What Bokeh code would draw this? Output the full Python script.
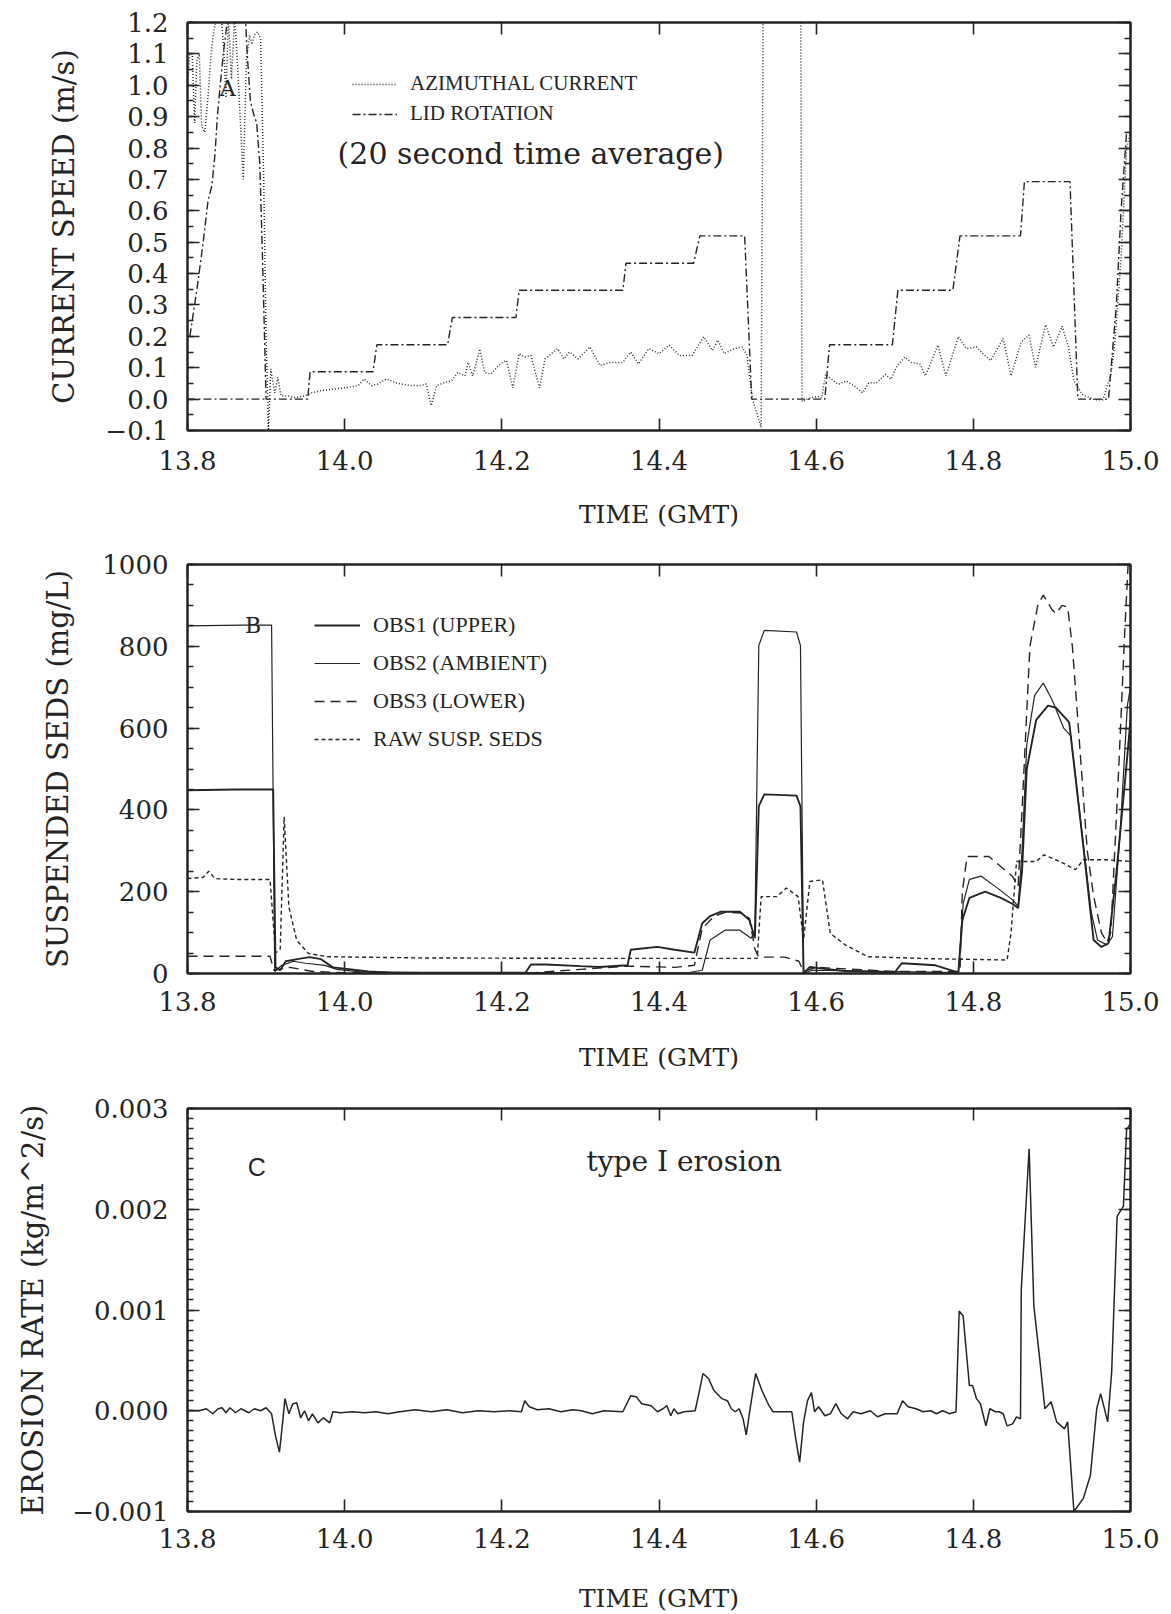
import numpy as np
from bokeh.plotting import figure
from bokeh.layouts import column
from bokeh.models import (Range1d, FixedTicker, LinearAxis, CustomJSTickFormatter,
                          Legend, LegendItem, Label)
from bokeh.embed import file_html
from bokeh.resources import INLINE

# ---------------- data: panel A (current speed, m/s) ----------------
az_t = [13.800, 13.803, 13.806, 13.809, 13.812, 13.815, 13.818, 13.822, 13.826, 13.830,
        13.834, 13.838, 13.842, 13.846, 13.849, 13.852, 13.856, 13.860, 13.864, 13.871,
        13.875, 13.879, 13.882, 13.885, 13.889, 13.893, 13.897, 13.900, 13.903, 13.906,
        13.911, 13.915, 13.919, 13.928, 13.936, 13.949, 13.958, 13.970, 13.987, 14.004,
        14.017, 14.025, 14.034, 14.042, 14.053, 14.064, 14.072, 14.085, 14.097, 14.104,
        14.110, 14.117, 14.127, 14.136, 14.144, 14.153, 14.157, 14.163, 14.172, 14.178,
        14.186, 14.192, 14.198, 14.206, 14.214, 14.222, 14.229, 14.237, 14.248, 14.255,
        14.271, 14.279, 14.286, 14.297, 14.312, 14.325, 14.338, 14.354, 14.364, 14.374,
        14.387, 14.400, 14.413, 14.426, 14.442, 14.457, 14.468, 14.475, 14.483, 14.496,
        14.506, 14.512, 14.519, 14.530, 14.533, 14.580, 14.582, 14.592, 14.602, 14.607,
        14.612, 14.620, 14.628, 14.638, 14.649, 14.659, 14.667, 14.677, 14.688, 14.695,
        14.703, 14.713, 14.721, 14.732, 14.739, 14.755, 14.765, 14.781, 14.791, 14.804,
        14.812, 14.822, 14.838, 14.848, 14.861, 14.871, 14.879, 14.892, 14.902, 14.913,
        14.921, 14.928, 14.939, 14.954, 14.965, 14.975, 14.980, 14.988, 14.995, 15.000]
az_v = [1.00, 1.10, 1.10, 0.88, 1.08, 1.10, 0.87, 0.85, 0.96, 1.10,
        1.18, 1.23, 1.25, 1.12, 0.96, 1.22, 1.02, 1.22, 1.05, 0.70,
        1.08, 1.16, 1.13, 1.16, 1.17, 1.15, 0.70, 0.20, -0.10, 0.096,
        0.020, 0.069, 0.010, 0.010, 0.005, 0.010, 0.020, 0.027, 0.032, 0.037,
        0.043, 0.064, 0.043, 0.048, 0.064, 0.053, 0.048, 0.043, 0.043, 0.048,
        -0.021, 0.043, 0.053, 0.058, 0.085, 0.074, 0.117, 0.074, 0.160, 0.085,
        0.080, 0.096, 0.112, 0.123, 0.036, 0.145, 0.134, 0.139, 0.036, 0.128,
        0.161, 0.128, 0.150, 0.128, 0.166, 0.107, 0.117, 0.117, 0.150, 0.112,
        0.161, 0.145, 0.172, 0.139, 0.139, 0.199, 0.155, 0.188, 0.145, 0.161,
        0.166, 0.139, 0.000, -0.090, 1.500, 1.500, -0.008, 0.003, 0.009, 0.003,
        0.079, 0.063, 0.047, 0.058, 0.041, 0.020, 0.052, 0.052, 0.079, 0.063,
        0.107, 0.134, 0.117, 0.112, 0.074, 0.172, 0.074, 0.199, 0.161, 0.166,
        0.145, 0.123, 0.193, 0.074, 0.183, 0.204, 0.101, 0.237, 0.166, 0.232,
        0.166, 0.058, 0.014, -0.002, -0.002, 0.079, 0.177, 0.450, 0.800, 0.850]

lid_t = [13.800, 13.900, np.nan,
         13.803, 13.812, 13.820, 13.826, 13.831, 13.835, 13.838, 13.842, 13.846, 13.850,
         13.854, 13.872, 13.876, 13.880, 13.884, 13.888, 13.892, 13.896, 13.900,
         13.953, 13.956, 14.036, 14.041, 14.131, 14.137, 14.218, 14.222, 14.354,
         14.358, 14.444, 14.452, 14.509, 14.518, 14.611, 14.617, 14.697, 14.704, 14.774,
         14.783, 14.860, 14.865, 14.923, 14.933, 14.972, 14.982, 14.988, 14.995, 15.000]
lid_v = [0.0, 0.0, np.nan,
         0.20, 0.35, 0.50, 0.63, 0.68, 0.78, 0.90, 1.01, 1.11, 1.19,
         1.30, 1.30, 1.10, 0.95, 0.91, 0.88, 0.75, 0.40, 0.00,
         0.00, 0.087, 0.087, 0.173, 0.173, 0.260, 0.260, 0.347, 0.347,
         0.433, 0.433, 0.520, 0.520, 0.000, 0.000, 0.173, 0.173, 0.347, 0.347,
         0.520, 0.520, 0.693, 0.693, 0.000, 0.000, 0.300, 0.600, 0.850, 0.850]

# ---------------- data: panel B (suspended sediments, mg/L) ----------------
obs1_t = [13.800, 13.860, 13.909, 13.912, 13.918, 13.925, 13.940, 13.955, 13.970, 13.985,
          14.000, 14.030, 14.060, 14.230, 14.237, 14.256, 14.300, 14.324, 14.360, 14.364,
          14.398, 14.420, 14.445, 14.455, 14.465, 14.479, 14.503, 14.515, 14.522, 14.527,
          14.534, 14.575, 14.580, 14.584, 14.592, 14.608, 14.637, 14.700, 14.709, 14.752,
          14.778, 14.781, 14.786, 14.795, 14.815, 14.835, 14.850, 14.857, 14.862, 14.868,
          14.880, 14.895, 14.905, 14.922, 14.930, 14.939, 14.953, 14.963, 14.972, 14.982,
          14.994, 15.000]
obs1_v = [448, 450, 450, 15, 8, 30, 35, 40, 35, 15,
          12, 5, 2, 2, 22, 22, 18, 16, 20, 58,
          65, 58, 51, 123, 140, 151, 151, 131, 86, 409,
          438, 435, 409, 0, 16, 12, 6, 3, 25, 20,
          4, 4, 130, 185, 200, 185, 170, 160, 250, 500,
          620, 655, 650, 614, 480, 327, 82, 65, 74, 245,
          491, 620]

obs2_t = [13.800, 13.870, 13.907, 13.911, 13.920, 13.935, 13.950, 13.975, 13.990, 14.020,
          14.100, 14.440, 14.455, 14.465, 14.484, 14.503, 14.517, 14.522, 14.527, 14.534,
          14.575, 14.580, 14.584, 14.595, 14.720, 14.781, 14.787, 14.795, 14.810, 14.830,
          14.850, 14.857, 14.862, 14.868, 14.878, 14.889, 14.900, 14.915, 14.924, 14.935,
          14.950, 14.958, 14.970, 14.977, 14.987, 14.996, 15.000]
obs2_v = [850, 852, 852, 5, 20, 30, 25, 20, 10, 4,
          2, 3, 8, 82, 106, 106, 86, 100, 802, 839,
          835, 802, 0, 8, 4, 2, 170, 230, 238, 210,
          180, 164, 300, 560, 680, 710, 670, 600, 581, 400,
          150, 82, 70, 90, 350, 655, 700]

obs3_t = [13.800, 13.905, 13.910, 13.930, 13.960, 14.000, 14.240, 14.300, 14.360, 14.420,
          14.445, 14.455, 14.470, 14.485, 14.505, 14.515, 14.522, 14.527, 14.560, 14.578,
          14.584, 14.600, 14.650, 14.700, 14.783, 14.786, 14.792, 14.820, 14.850, 14.857,
          14.862, 14.872, 14.882, 14.889, 14.900, 14.905, 14.913, 14.920, 14.926, 14.933,
          14.945, 14.953, 14.963, 14.970, 14.975, 14.985, 14.993, 14.997, 15.000]
obs3_v = [42, 42, 8, 15, 5, 2, 2, 10, 18, 15,
          20, 110, 140, 150, 148, 135, 60, 40, 40, 30,
          5, 15, 10, 5, 5, 200, 286, 286, 237, 213,
          400, 800, 900, 925, 890, 880, 900, 896, 800, 619,
          300, 190, 100, 76, 101, 500, 850, 1000, 1000]

raw_t = [13.800, 13.820, 13.827, 13.835, 13.860, 13.905, 13.912, 13.918, 13.923, 13.929,
         13.939, 13.954, 13.978, 14.100, 14.300, 14.450, 14.525, 14.530, 14.550, 14.562,
         14.577, 14.584, 14.592, 14.608, 14.618, 14.637, 14.666, 14.750, 14.843, 14.848,
         14.855, 14.880, 14.890, 14.910, 14.930, 14.940, 14.970, 15.000]
raw_v = [232, 235, 250, 232, 230, 230, 50, 60, 383, 163,
         81, 49, 41, 38, 37, 37, 37, 188, 188, 209,
         188, 82, 225, 229, 98, 70, 41, 36, 33, 100,
         274, 274, 290, 274, 254, 278, 278, 274]

# ---------------- data: panel C (erosion rate, kg/m^2/s) ----------------
er_t = [13.800, 13.815, 13.824, 13.832, 13.839, 13.844, 13.849, 13.854, 13.861, 13.868,
        13.878, 13.885, 13.893, 13.900, 13.907, 13.912, 13.917, 13.921, 13.924, 13.929,
        13.934, 13.939, 13.944, 13.949, 13.954, 13.959, 13.966, 13.973, 13.981, 13.985,
        13.995, 14.010, 14.025, 14.040, 14.055, 14.070, 14.090, 14.110, 14.130, 14.150,
        14.170, 14.190, 14.210, 14.225, 14.229, 14.235, 14.245, 14.260, 14.275, 14.290,
        14.301, 14.315, 14.330, 14.354, 14.364, 14.371, 14.378, 14.390, 14.398, 14.405,
        14.410, 14.415, 14.419, 14.424, 14.432, 14.446, 14.451, 14.456, 14.463, 14.470,
        14.480, 14.487, 14.492, 14.497, 14.502, 14.507, 14.511, 14.516, 14.523, 14.531,
        14.540, 14.545, 14.569, 14.574, 14.579, 14.584, 14.589, 14.594, 14.598, 14.603,
        14.611, 14.618, 14.625, 14.632, 14.640, 14.647, 14.657, 14.669, 14.678, 14.688,
        14.703, 14.710, 14.717, 14.727, 14.736, 14.746, 14.753, 14.761, 14.770, 14.778,
        14.782, 14.787, 14.795, 14.799, 14.804, 14.809, 14.816, 14.821, 14.828, 14.833,
        14.838, 14.843, 14.850, 14.855, 14.860, 14.861, 14.871, 14.877, 14.884, 14.891,
        14.899, 14.906, 14.916, 14.920, 14.928, 14.940, 14.949, 14.957, 14.962, 14.971,
        14.976, 14.983, 14.991, 14.995, 15.000]
er_v = [0.0, 0.0, 0.00002, -0.00003, 0.00002, 0.00003, -0.00002, 0.00003, -0.00002, 0.00002,
        -0.00002, 0.00002, 0.0, 0.00003, -0.00003, -0.00025, -0.00041, -0.00012, 0.00012, -0.00003,
        0.00007, 0.00008, -0.00007, 0.0, -0.00010, -0.00003, -0.00012, -0.00007, -0.00012, -0.00001,
        -0.00002, -0.00001, -0.00002, -0.00001, -0.00003, -0.00001, 0.00001, -0.00001, 0.00001, -0.00002,
        0.0, -0.00001, 0.0, -0.00001, 0.00010, 0.00004, 0.00001, 0.00002, -0.00001, 0.00001,
        0.0, -0.00003, 0.0, -0.00001, 0.00015, 0.00014, 0.00007, 0.00005, -0.00001, 0.00002,
        0.00005, -0.00005, 0.00002, -0.00003, -0.00001, 0.0, 0.00018, 0.00037, 0.00032, 0.00020,
        0.00012, 0.00010, 0.00002, -0.00001, 0.00002, -0.00008, -0.00024, 0.00002, 0.00037, 0.00020,
        0.00005, -0.00001, -0.00001, -0.00028, -0.00051, -0.00011, 0.00010, 0.00018, -0.00001, 0.00004,
        -0.00005, -0.00003, 0.00007, -0.00003, -0.00008, -0.00001, -0.00003, 0.0, -0.00006, -0.00003,
        -0.00003, 0.00010, 0.00004, 0.00002, -0.00001, 0.0, -0.00003, 0.0, -0.00003, -0.00001,
        0.00099, 0.00094, 0.00025, 0.00025, 0.00012, 0.00007, -0.00015, 0.00002, -0.00001, -0.00001,
        -0.00003, -0.00015, -0.00013, -0.00006, -0.00008, 0.00120, 0.00260, 0.00104, 0.00055, 0.00002,
        0.00009, -0.00011, -0.00018, -0.00011, -0.00100, -0.00087, -0.00064, 0.00002, 0.00017, -0.00011,
        0.00038, 0.00193, 0.00203, 0.00279, 0.00285]

# ---------------- tick definitions ----------------
x_ticks = [13.8, 14.0, 14.2, 14.4, 14.6, 14.8, 15.0]
a_major = [-0.1, 0.0, 0.1, 0.2, 0.3, 0.4, 0.5, 0.6, 0.7, 0.8, 0.9, 1.0, 1.1, 1.2]
b_major = [0, 200, 400, 600, 800, 1000]
c_major = [-0.001, 0.0, 0.001, 0.002, 0.003]

a_minor = list(np.round(np.arange(-0.1, 1.2001, 0.05), 3))
b_minor = list(np.arange(0, 1001, 50))
c_minor = list(np.round(np.arange(-0.001, 0.00300001, 0.0001), 5))

INK = "#242424"
SERIF = "DejaVu Serif"
FW = 943


def fmt(nd):
    return CustomJSTickFormatter(code="""
        const s = Math.abs(tick).toFixed(%d);
        return (tick < -1e-12 ? '\\u2212' : '') + s;
    """ % nd)


def blank_fmt():
    return CustomJSTickFormatter(code="return '';")


def style_axis(ax, labels=True):
    ax.axis_line_color = INK
    ax.axis_line_width = 2
    ax.major_tick_line_color = INK
    ax.major_tick_line_width = 1.6
    ax.major_tick_in = 12
    ax.major_tick_out = 0
    ax.minor_tick_line_color = INK
    ax.minor_tick_line_width = 1.3
    ax.minor_tick_in = 6
    ax.minor_tick_out = 0
    if labels:
        ax.major_label_text_font = SERIF
        ax.major_label_text_font_size = "26px"
        ax.major_label_text_color = INK
        ax.axis_label_text_font = SERIF
        ax.axis_label_text_font_style = "normal"
        ax.axis_label_text_color = INK
    else:
        ax.major_label_text_font_size = "0px"
        ax.major_label_standoff = 0


def make_fig(yr, ymaj, ymin, ynd, ylabel, top, fh, bottom, xstand, xlab_stand, ylab_stand):
    p = figure(frame_width=FW, frame_height=fh,
               x_range=Range1d(13.8, 15.0), y_range=Range1d(*yr),
               output_backend="svg", toolbar_location=None,
               x_axis_location=None, y_axis_location=None,
               min_border_left=187, min_border_right=41,
               min_border_top=top, min_border_bottom=bottom)
    p.xgrid.visible = False
    p.ygrid.visible = False
    p.background_fill_color = "white"
    p.border_fill_color = "white"
    p.outline_line_color = INK
    p.outline_line_width = 2

    xb = LinearAxis(ticker=FixedTicker(ticks=x_ticks, minor_ticks=[]), formatter=fmt(1),
                    axis_label="TIME (GMT)")
    style_axis(xb)
    xb.major_label_standoff = xstand
    xb.axis_label_standoff = xlab_stand
    xb.axis_label_text_font_size = "25px"
    p.add_layout(xb, "below")

    xt = LinearAxis(ticker=FixedTicker(ticks=x_ticks, minor_ticks=[]), formatter=blank_fmt())
    style_axis(xt, labels=False)
    p.add_layout(xt, "above")

    yl = LinearAxis(ticker=FixedTicker(ticks=ymaj, minor_ticks=ymin), formatter=fmt(ynd),
                    axis_label=ylabel)
    style_axis(yl)
    yl.major_label_standoff = 19
    yl.axis_label_standoff = ylab_stand
    yl.axis_label_text_font_size = "29px"
    p.add_layout(yl, "left")

    yr_ax = LinearAxis(ticker=FixedTicker(ticks=ymaj, minor_ticks=ymin), formatter=blank_fmt())
    style_axis(yr_ax, labels=False)
    p.add_layout(yr_ax, "right")
    return p


# ---------------- panel A ----------------
pa = make_fig((-0.1, 1.2), a_major, a_minor, 1, "CURRENT SPEED (m/s)", 22, 408, 110,
              20, 27, 21)
r_az = pa.line(az_t, az_v, line_color="#2c2c2c", line_width=1.5, line_dash="1 2")
r_lid = pa.line(np.array(lid_t), np.array(lid_v), line_color=INK, line_width=1.4,
                line_dash="8 3 2 3")
leg_a = Legend(items=[LegendItem(label="AZIMUTHAL CURRENT", renderers=[r_az]),
                      LegendItem(label="LID ROTATION", renderers=[r_lid])],
               location=(165, 304), padding=0, margin=0, spacing=5,
               glyph_width=45, glyph_height=24, label_height=20, label_standoff=13,
               border_line_color=None, background_fill_alpha=0,
               label_text_font="Liberation Serif", label_text_font_size="21px",
               label_text_color=INK)
pa.add_layout(leg_a)
pa.add_layout(Label(x=13.851, y=0.99, text="A", text_align="center", text_baseline="middle",
                    text_font=SERIF, text_font_size="22px", text_color=INK))
pa.add_layout(Label(x=13.991, y=0.783, text="(20 second time average)", text_align="left",
                    text_baseline="middle", text_font=SERIF, text_font_size="30px",
                    text_color=INK))

# ---------------- panel B ----------------
pb = make_fig((0, 1000), b_major, b_minor, 0, "SUSPENDED SEDS (mg/L)", 24, 409, 112,
              18, 29, 24)
r1 = pb.line(obs1_t, obs1_v, line_color=INK, line_width=1.9)
r2 = pb.line(obs2_t, obs2_v, line_color=INK, line_width=1.2)
r3 = pb.line(obs3_t, obs3_v, line_color=INK, line_width=1.4, line_dash="10 6")
r4 = pb.line(raw_t, raw_v, line_color=INK, line_width=1.4, line_dash="4 3")
leg_b = Legend(items=[LegendItem(label="OBS1 (UPPER)", renderers=[r1]),
                      LegendItem(label="OBS2 (AMBIENT)", renderers=[r2]),
                      LegendItem(label="OBS3 (LOWER)", renderers=[r3]),
                      LegendItem(label="RAW SUSP. SEDS", renderers=[r4])],
               location=(127, 221), padding=0, margin=0, spacing=12,
               glyph_width=46, glyph_height=26, label_height=20, label_standoff=13,
               border_line_color=None, background_fill_alpha=0,
               label_text_font="Liberation Serif", label_text_font_size="22px",
               label_text_color=INK)
pb.add_layout(leg_b)
pb.add_layout(Label(x=13.8835, y=851, text="B", text_align="center", text_baseline="middle",
                    text_font=SERIF, text_font_size="22px", text_color=INK))

# ---------------- panel C ----------------
pc = make_fig((-0.001, 0.003), c_major, c_minor, 3, "EROSION RATE (kg/m^2/s)", 23, 403, 103,
              17, 33, 19)
pc.line(er_t, er_v, line_color=INK, line_width=1.5)
pc.add_layout(Label(x=13.888, y=0.00242, text="C", text_align="center", text_baseline="middle",
                    text_font="Liberation Sans", text_font_size="25px", text_color=INK))
pc.add_layout(Label(x=14.3077, y=0.00247, text="type I erosion", text_align="left",
                    text_baseline="middle", text_font=SERIF, text_font_size="28px",
                    text_color=INK))

layout = column(pa, pb, pc, spacing=0)
open("out.html", "w").write(file_html(layout, INLINE))
